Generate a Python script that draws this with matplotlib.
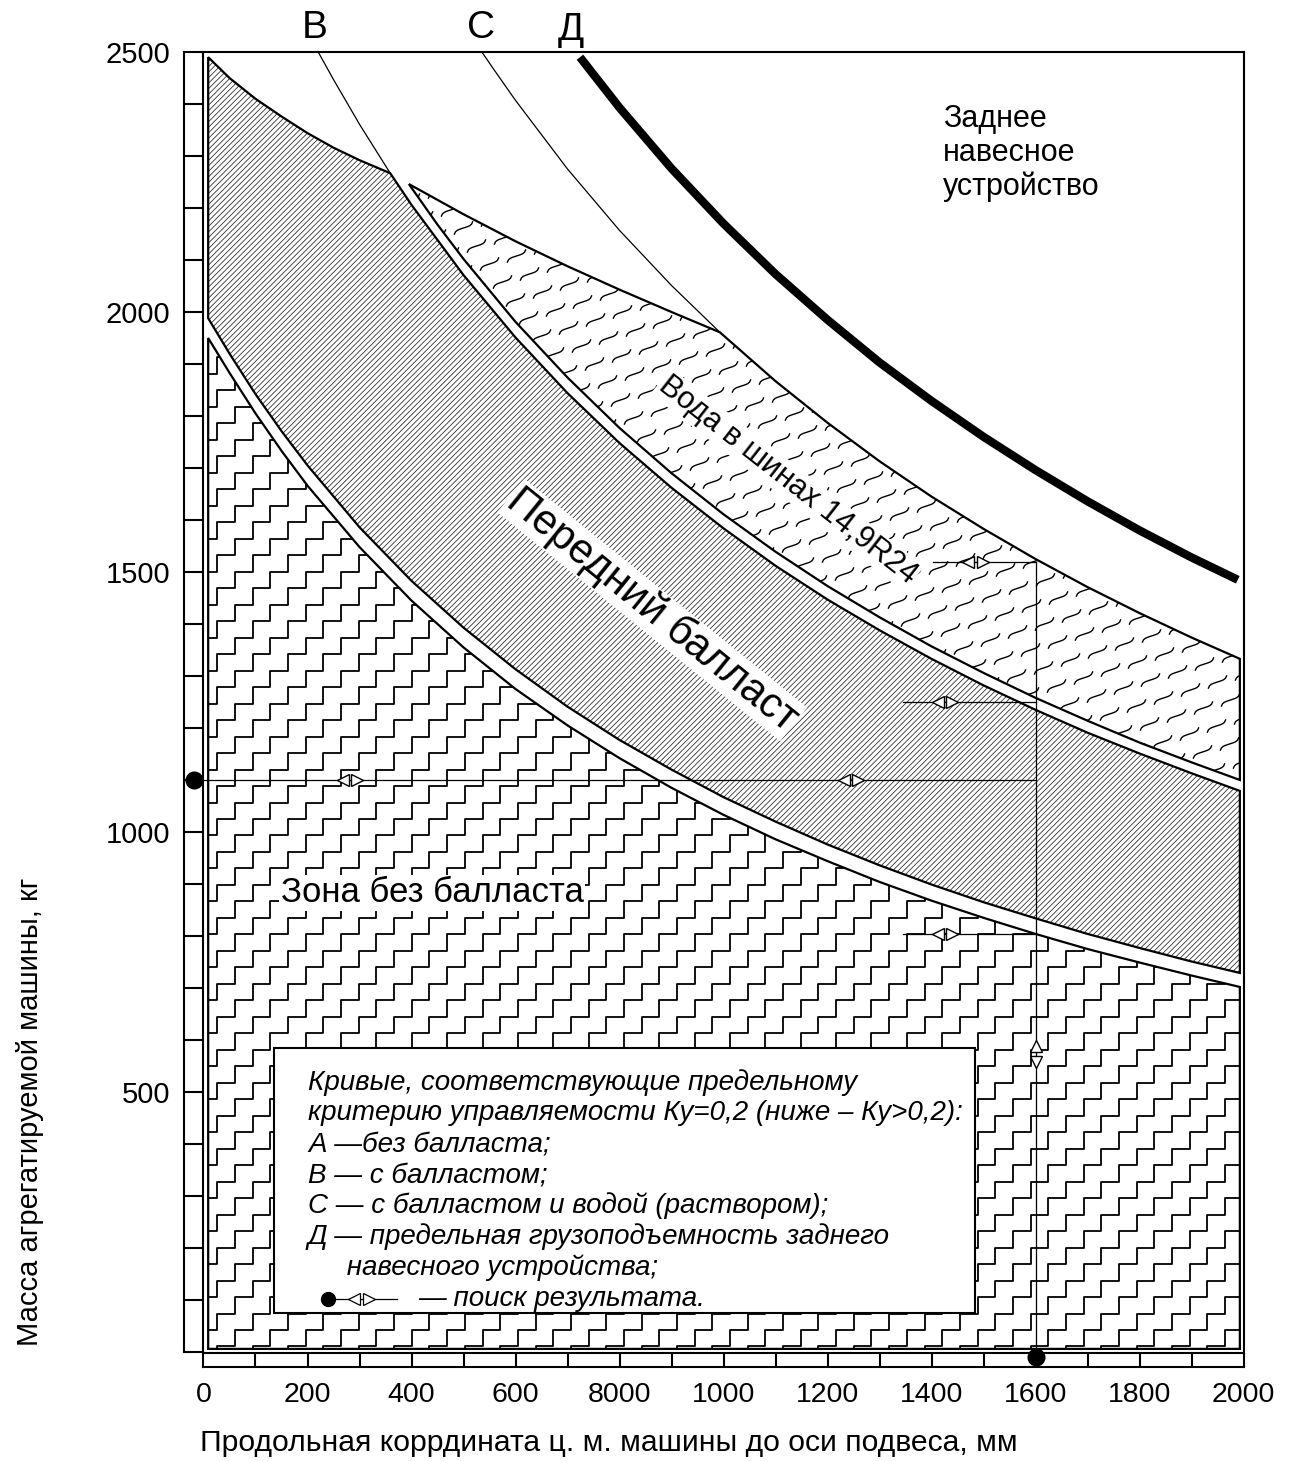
import numpy as np
import matplotlib
matplotlib.use("Agg")
import matplotlib.pyplot as plt
from matplotlib.patches import Polygon, Rectangle
from matplotlib.collections import LineCollection

plt.rcParams['font.family'] = ['Liberation Sans', 'DejaVu Sans']

# --- Данные ---
# кривая A: верхняя линия (низ переднего балласта) и нижняя (верх зоны без балласта)
a_x = [9, 50, 100, 150, 200, 300, 400, 500, 600, 700, 800, 900, 1000,
       1100, 1200, 1300, 1400, 1500, 1600, 1700, 1800, 1900, 1993]
a_top = [1988, 1920, 1842, 1771, 1705, 1586, 1483, 1393, 1313, 1241, 1177, 1120, 1067,
         1020, 976, 936, 899, 865, 834, 804, 777, 751, 729]
a_bot = [1950, 1883, 1805, 1733, 1666, 1548, 1445, 1355, 1275, 1205, 1142, 1085, 1033,
         986, 944, 904, 868, 835, 804, 775, 749, 724, 702]

# кривая B (верх переднего балласта)
b_x = [220, 250, 300, 359, 400, 500, 600, 700, 800, 900, 1000, 1100, 1200,
       1300, 1400, 1500, 1600, 1700, 1800, 1900, 1993]
b_y = [2501, 2447, 2361, 2267, 2206, 2071, 1951, 1844, 1748, 1662, 1584, 1512, 1447,
       1388, 1333, 1282, 1235, 1191, 1151, 1113, 1079]

# левая верхняя граница переднего балласта
h_x = [9, 50, 100, 150, 200, 250, 300, 359]
h_y = [2490, 2450, 2410, 2376, 2344, 2316, 2292, 2267]

# нижняя и верхняя границы зоны "вода в шинах"
w_x = [395, 450, 500, 600, 700, 800, 900, 1000, 1100, 1200, 1300, 1400, 1500,
       1600, 1700, 1800, 1900, 1993]
w_bot = [2246, 2168, 2102, 1981, 1874, 1777, 1690, 1611, 1539, 1473, 1413, 1357, 1306,
         1258, 1214, 1172, 1134, 1100]
wt_x = [395, 500, 600, 700, 800, 900, 993]
wt_y = [2246, 2188, 2136, 2088, 2043, 2000, 1961]

# кривая C
c_x = [536, 560, 600, 700, 800, 900, 993, 1100, 1200, 1300, 1400, 1500, 1600,
       1700, 1800, 1900, 1993]
c_y = [2499, 2464, 2407, 2275, 2157, 2051, 1961, 1867, 1787, 1713, 1645, 1583, 1525,
       1471, 1421, 1374, 1333]

# кривая Д
d_x = [724, 800, 900, 1000, 1100, 1200, 1300, 1400, 1500, 1600, 1700, 1800, 1900, 1989]
d_y = [2490, 2393, 2276, 2170, 2073, 1985, 1903, 1829, 1760, 1696, 1636, 1580, 1528, 1485]

# поиск результата
start_pt = (-18, 1100)
bottom_pt = (1600, -10)
read_y = [804, 1250, 1519]
read_x0 = [1345, 1345, 1403]
pair_main = [282, 1245]
pair_short = [1426, 1426, 1485]
pair_vert = 573

xticks = [0, 200, 400, 600, 800, 1000, 1200, 1400, 1600, 1800, 2000]
xlabels = ['0', '200', '400', '600', '8000', '1000', '1200', '1400', '1600', '1800', '2000']
yticks = [500, 1000, 1500, 2000, 2500]

legend_lines = [
    'Кривые, соответствующие предельному',
    'критерию управляемости Ку=0,2 (ниже – Ку>0,2):',
    'А —без балласта;',
    'В — с балластом;',
    'С — с балластом и водой (раствором);',
    'Д — предельная грузоподъемность заднего',
    '     навесного устройства;',
]

PX = 0.52  # пикселей на единицу

fig = plt.figure(figsize=(12.92, 14.61), dpi=100)
ax = fig.add_axes([172.3 / 1292, 88.2 / 1461, 1092 / 1292, 1352 / 1461])
for s in ax.spines.values():
    s.set_visible(False)


def fill_region(verts, lines, lw, color):
    clip = Polygon(verts, closed=True, facecolor='white', edgecolor='none', zorder=1)
    ax.add_patch(clip)
    lc = LineCollection(lines, colors=color, linewidths=lw, zorder=2)
    lc.set_clip_path(clip)
    ax.add_collection(lc, autolim=False)
    ax.add_patch(Polygon(verts, closed=True, fill=False, edgecolor='black',
                         lw=1.6, zorder=3, joinstyle='miter'))


# узор "лесенка"
w_st, h_st = 34.0, 31.7
stairs = []
ii = np.arange(-5, 72)
for n in range(-40, 35):
    xs = 60.6 + 2 * w_st * n
    px = np.empty(2 * len(ii))
    py = np.empty(2 * len(ii))
    px[0::2] = xs + ii * w_st
    px[1::2] = xs + (ii + 1) * w_st
    py[0::2] = 42.3 + ii * h_st
    py[1::2] = 42.3 + ii * h_st
    stairs.append(np.column_stack([px, py]))

# косая штриховка
diag = [[(d, 0), (d + 2600, 2600)] for d in np.arange(-2600, 2100, 10.6)]

# "волны"
t = np.linspace(-1, 1, 11)
sx, sy = 11 * t, 3.5 * t ** 5
ang = np.deg2rad(18)
rx = (sx * np.cos(ang) - sy * np.sin(ang)) / PX
ry = (sx * np.sin(ang) + sy * np.cos(ang)) / PX
waves = []
for i in range(-15, 32):
    for j in range(-5, 50):
        cx = 400 + (i * 40 + j * 13) / PX
        cy = 2300 + (-i * 10 - j * 18) / PX
        if 300 < cx < 2100 and 1000 < cy < 2350:
            waves.append(np.column_stack([cx + rx, cy + ry]))

# зона без балласта
v_low = [(a_x[0], 6)] + list(zip(a_x, a_bot)) + [(a_x[-1], 6)]
fill_region(v_low, stairs, 1.3, 'black')

# передний балласт
bx = np.array(b_x)
by = np.array(b_y)
m = bx >= 359
v_mid = (list(zip(h_x, h_y)) + list(zip(bx[m], by[m]))
         + list(zip(a_x[::-1], a_top[::-1])))
fill_region(v_mid, diag, 0.6, '#333333')

# вода в шинах
cxa = np.array(c_x)
cya = np.array(c_y)
mc = cxa > 993
v_w = (list(zip(wt_x, wt_y)) + list(zip(cxa[mc], cya[mc]))
       + list(zip(w_x[::-1], w_bot[::-1])))
fill_region(v_w, waves, 1.0, 'black')

# тонкие участки кривых B и C, толстая Д
ax.plot(bx[bx <= 359], by[bx <= 359], color='black', lw=0.9, zorder=3)
ax.plot(cxa[cxa <= 993], cya[cxa <= 993], color='black', lw=0.9, zorder=3)
ax.plot(d_x, d_y, color='black', lw=6.0, solid_capstyle='butt', zorder=3)

# рамка и линейки
fk = dict(color='black', lw=1.5, zorder=4)
ax.plot([-37, 2000], [2500, 2500], **fk)
ax.plot([2000, 2000], [-29, 2500], **fk)
ax.plot([-37, -37], [0, 2500], **fk)
ax.plot([0, 0], [-29, 2500], **fk)
ax.plot([-37, 0], [0, 0], **fk)
ax.plot([0, 2000], [-2, -2], **fk)
ax.plot([0, 2000], [-29, -29], **fk)
ax.hlines(np.arange(100, 2500, 100), -37, 0, colors='black', lw=1.5, zorder=4)
ax.vlines(np.arange(100, 2000, 100), -29, -2, colors='black', lw=1.5, zorder=4)

# линии поиска
lk = dict(color='black', lw=0.9, zorder=5)
ax.plot([start_pt[0], bottom_pt[0]], [start_pt[1], start_pt[1]], **lk)
ax.plot([bottom_pt[0], bottom_pt[0]], [bottom_pt[1], read_y[2]], **lk)
for y, x0 in zip(read_y, read_x0):
    ax.plot([x0, bottom_pt[0]], [y, y], **lk)
mk = dict(ls='none', ms=8.6, mfc='white', mec='black', mew=1.0, zorder=6, clip_on=False)
for xc in pair_main:
    ax.plot(xc - 14, start_pt[1], marker='<', **mk)
    ax.plot(xc + 14, start_pt[1], marker='>', **mk)
for xc, y in zip(pair_short, read_y):
    ax.plot(xc - 14, y, marker='<', **mk)
    ax.plot(xc + 14, y, marker='>', **mk)
ax.plot(bottom_pt[0], pair_vert + 15, marker='^', **mk)
ax.plot(bottom_pt[0], pair_vert - 15, marker='v', **mk)
ax.plot(*start_pt, 'o', color='black', ms=12, zorder=7, clip_on=False)
ax.plot(*bottom_pt, 'o', color='black', ms=12, zorder=7, clip_on=False)

# легенда
ax.add_patch(Rectangle((136, 75), 1348, 510, facecolor='white', edgecolor='black',
                       lw=1.5, zorder=8))
for k, line in enumerate(legend_lines):
    ax.text(201, 519 - 59.6 * k, line, fontsize=20, fontstyle='italic',
            va='center', ha='left', zorder=9)
yl = 519 - 59.6 * 7
ax.plot([239, 372], [yl, yl], color='black', lw=0.9, zorder=9)
ax.plot(239, yl, 'o', color='black', ms=10, zorder=10)
ax.plot(290, yl, marker='<', ls='none', ms=8, mfc='white', mec='black', mew=0.9, zorder=10)
ax.plot(318, yl, marker='>', ls='none', ms=8, mfc='white', mec='black', mew=0.9, zorder=10)
ax.text(412, yl, '— поиск результата.', fontsize=20, fontstyle='italic',
        va='center', ha='left', zorder=9)

# надписи
bb = dict(facecolor='white', edgecolor='none', pad=1)
ax.text(214, 2546, 'В', fontsize=28, ha='center', va='center')
ax.text(534, 2546, 'С', fontsize=28, ha='center', va='center')
ax.text(707, 2542, 'Д', fontsize=28, ha='center', va='center')
ax.text(1422, 2306, 'Заднее\nнавесное\nустройство', fontsize=22, ha='left', va='center',
        linespacing=1.16)
ax.text(440, 883, 'Зона без балласта', fontsize=25, ha='center', va='center',
        bbox=bb, zorder=6)
ax.text(863, 1427, 'Передний балласт', fontsize=30, ha='center', va='center',
        rotation=-39, bbox=bb, zorder=6)
ax.text(1123, 1677, 'Вода в шинах 14,9R24', fontsize=22, ha='center', va='center',
        rotation=-38, bbox=bb, zorder=6)

ax.set_xticks(xticks, xlabels)
ax.set_yticks(yticks, [str(v) for v in yticks])
ax.tick_params(length=0)
ax.tick_params(axis='x', pad=6.3, labelsize=20.5)
ax.tick_params(axis='y', pad=1.7, labelsize=21)
ax.set_xlim(-60, 2040)
ax.set_ylim(-40, 2560)

fig.text(200 / 1292, 1 - 1443 / 1461, 'Продольная коррдината ц. м. машины до оси подвеса, мм',
         fontsize=21.7, ha='left', va='center')
fig.text(30 / 1292, 1 - 1112 / 1461, 'Масса агрегатируемой машины, кг',
         fontsize=21, ha='center', va='center', rotation=90)

fig.savefig('out.png', dpi=100)
